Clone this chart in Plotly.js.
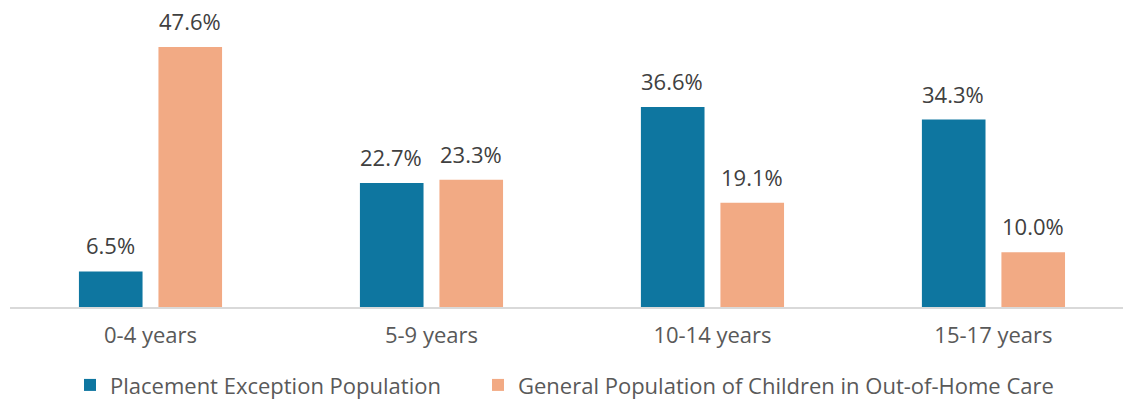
<!DOCTYPE html>
<html>
<head>
<meta charset="utf-8">
<script src="https://cdn.plot.ly/plotly-3.0.1.min.js"></script>
<style>
  html, body { margin: 0; padding: 0; background: #ffffff; }
  #chart { width: 1123px; height: 402px; }
</style>
</head>
<body>
<div id="chart"></div>
<script>
// Age groups on the category axis
const ageGroups = ['0-4 years', '5-9 years', '10-14 years', '15-17 years'];

// Share of each population by age group (percent)
const placementException = [6.5, 22.7, 36.6, 34.3];
const generalPopulation = [47.6, 23.3, 19.1, 10.0];

const seriesNames = ['Placement Exception Population', 'General Population of Children in Out-of-Home Care'];
const seriesColors = ['#0E76A0', '#F2AA84'];

const FONT = '"Open Sans", "Noto Sans", sans-serif';
const FS = 22;

const traces = [
  {
    type: 'bar',
    name: seriesNames[0],
    x: ageGroups,
    y: placementException,
    marker: { color: seriesColors[0] },
    legend: 'legend',
    hoverinfo: 'skip'
  },
  {
    type: 'bar',
    name: seriesNames[1],
    x: ageGroups,
    y: generalPopulation,
    marker: { color: seriesColors[1] },
    legend: 'legend2',
    hoverinfo: 'skip'
  }
];

// Value labels above each bar, shifted left/right onto their bar in the group
const barShift = 40;
const annotations = [];
[placementException, generalPopulation].forEach((vals, s) => {
  vals.forEach((v, i) => {
    annotations.push({
      x: ageGroups[i],
      y: v,
      xref: 'x',
      yref: 'y',
      text: v.toFixed(1) + '%',
      showarrow: false,
      yanchor: 'bottom',
      xanchor: 'center',
      xshift: s === 0 ? -barShift : barShift,
      yshift: 9,
      font: { family: FONT, size: FS, color: '#404040' }
    });
  });
});

// Shared legend styling; each series gets its own legend box in the footer
function legendBox(xPx) {
  return {
    orientation: 'h',
    xref: 'container',
    yref: 'container',
    x: xPx / 1123,
    xanchor: 'left',
    y: 0.042,
    yanchor: 'middle',
    borderwidth: 0,
    font: { family: FONT, size: FS, color: '#595959' },
    itemclick: false,
    itemdoubleclick: false
  };
}

const layout = {
  width: 1123,
  height: 402,
  margin: { l: 10, r: 0, t: 0, b: 95 },
  paper_bgcolor: '#ffffff',
  plot_bgcolor: '#ffffff',
  barmode: 'group',
  bargap: 0.434,
  bargroupgap: 0.2,
  font: { family: FONT, color: '#595959', size: FS },
  xaxis: {
    type: 'category',
    range: [-0.5, 3.461],
    showline: true,
    linecolor: '#D9D9D9',
    linewidth: 2,
    ticks: '',
    showgrid: false,
    zeroline: false,
    ticklabelstandoff: 8,
    tickfont: { family: FONT, size: FS, color: '#595959' }
  },
  yaxis: {
    range: [0, 56.18],
    showgrid: false,
    zeroline: false,
    showticklabels: false,
    ticks: ''
  },
  showlegend: true,
  legend: legendBox(70),
  legend2: legendBox(478),
  annotations: annotations
};

Plotly.newPlot('chart', traces, layout, { displayModeBar: false, staticPlot: true });
</script>
</body>
</html>
